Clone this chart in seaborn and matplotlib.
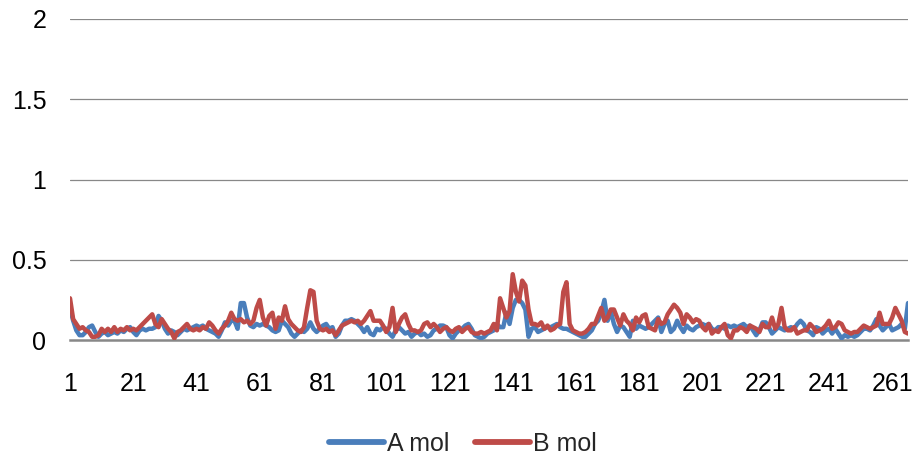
import numpy as np
import pandas as pd
import matplotlib
matplotlib.use("Agg")
import matplotlib.pyplot as plt
import seaborn as sns

a_mol = [
    0.20, 0.12, 0.06, 0.03, 0.03, 0.05, 0.08, 0.09, 0.05, 0.02, 0.04, 0.05, 0.03, 0.04, 0.05, 0.04, 0.06, 0.05, 0.07, 0.08, 0.05, 0.03, 0.06, 0.07, 0.06, 0.07, 0.07, 0.08, 0.15, 0.12, 0.07, 0.04, 0.06,
    0.05, 0.03, 0.05, 0.07, 0.06, 0.07, 0.08, 0.09, 0.08, 0.09, 0.07, 0.06, 0.05, 0.04, 0.02, 0.06, 0.11, 0.09, 0.12, 0.12, 0.07, 0.23, 0.23, 0.14, 0.09, 0.08, 0.10, 0.09, 0.10, 0.09, 0.08, 0.06, 0.05,
    0.06, 0.12, 0.10, 0.08, 0.04, 0.02, 0.04, 0.06, 0.05, 0.07, 0.11, 0.07, 0.05, 0.07, 0.09, 0.10, 0.07, 0.08, 0.02, 0.04, 0.09, 0.12, 0.12, 0.13, 0.12, 0.10, 0.08, 0.05, 0.08, 0.04, 0.03, 0.07, 0.06, 0.08,
    0.07, 0.04, 0.02, 0.06, 0.08, 0.06, 0.04, 0.05, 0.02, 0.04, 0.05, 0.03, 0.04, 0.02, 0.03, 0.06, 0.07, 0.09, 0.09, 0.08, 0.03, 0.01, 0.04, 0.06, 0.07, 0.09, 0.10, 0.07, 0.03, 0.02, 0.01, 0.02, 0.04,
    0.05, 0.06, 0.10, 0.08, 0.08, 0.17, 0.10, 0.20, 0.25, 0.25, 0.23, 0.19, 0.02, 0.07, 0.08, 0.05, 0.06, 0.07, 0.08, 0.08, 0.09, 0.10, 0.08, 0.07, 0.07, 0.06, 0.05, 0.04, 0.03, 0.02, 0.02, 0.04, 0.06,
    0.10, 0.12, 0.17, 0.25, 0.12, 0.18, 0.10, 0.05, 0.09, 0.08, 0.05, 0.02, 0.12, 0.07, 0.09, 0.08, 0.07, 0.08, 0.10, 0.12, 0.14, 0.05, 0.10, 0.12, 0.05, 0.07, 0.12, 0.08, 0.05, 0.09, 0.07, 0.06, 0.08,
    0.09, 0.10, 0.09, 0.10, 0.07, 0.06, 0.08, 0.08, 0.07, 0.09, 0.08, 0.09, 0.08, 0.09, 0.10, 0.08, 0.09, 0.06, 0.03, 0.06, 0.11, 0.11, 0.08, 0.04, 0.06, 0.08, 0.07, 0.06, 0.07, 0.08, 0.07, 0.10, 0.12, 0.10,
    0.06, 0.05, 0.03, 0.08, 0.07, 0.04, 0.06, 0.07, 0.04, 0.07, 0.04, 0.01, 0.03, 0.02, 0.03, 0.02, 0.03, 0.05, 0.07, 0.07, 0.06, 0.09, 0.13, 0.09, 0.06, 0.08, 0.10, 0.06, 0.07, 0.08, 0.10, 0.07, 0.23,
]

b_mol = [
    0.26, 0.13, 0.10, 0.07, 0.08, 0.06, 0.05, 0.02, 0.02, 0.03, 0.07, 0.05, 0.07, 0.05, 0.08, 0.05, 0.07, 0.06, 0.08, 0.06, 0.07, 0.06, 0.08, 0.10, 0.12, 0.14, 0.16, 0.10, 0.08, 0.13, 0.10, 0.07, 0.05,
    0.01, 0.05, 0.06, 0.08, 0.10, 0.07, 0.06, 0.07, 0.06, 0.08, 0.07, 0.11, 0.09, 0.06, 0.04, 0.07, 0.09, 0.12, 0.17, 0.13, 0.12, 0.13, 0.11, 0.12, 0.10, 0.12, 0.20, 0.25, 0.14, 0.09, 0.15, 0.17, 0.07,
    0.14, 0.12, 0.21, 0.13, 0.10, 0.08, 0.06, 0.05, 0.08, 0.20, 0.31, 0.30, 0.12, 0.07, 0.06, 0.07, 0.05, 0.06, 0.03, 0.06, 0.09, 0.10, 0.11, 0.12, 0.11, 0.12, 0.10, 0.12, 0.15, 0.18, 0.12, 0.12, 0.12, 0.09,
    0.05, 0.08, 0.20, 0.05, 0.10, 0.14, 0.16, 0.10, 0.06, 0.06, 0.05, 0.06, 0.10, 0.11, 0.08, 0.10, 0.08, 0.05, 0.07, 0.08, 0.06, 0.05, 0.07, 0.08, 0.05, 0.07, 0.08, 0.05, 0.04, 0.04, 0.05, 0.04, 0.05,
    0.06, 0.10, 0.06, 0.26, 0.20, 0.14, 0.18, 0.41, 0.30, 0.24, 0.37, 0.34, 0.19, 0.10, 0.10, 0.09, 0.11, 0.07, 0.09, 0.06, 0.07, 0.09, 0.10, 0.30, 0.36, 0.10, 0.06, 0.05, 0.04, 0.04, 0.05, 0.07, 0.10,
    0.10, 0.15, 0.20, 0.12, 0.14, 0.19, 0.19, 0.14, 0.09, 0.16, 0.12, 0.10, 0.06, 0.14, 0.11, 0.15, 0.16, 0.08, 0.07, 0.06, 0.13, 0.10, 0.11, 0.16, 0.19, 0.22, 0.20, 0.17, 0.10, 0.16, 0.14, 0.11, 0.13,
    0.12, 0.08, 0.06, 0.10, 0.04, 0.06, 0.05, 0.08, 0.10, 0.03, 0.01, 0.06, 0.06, 0.08, 0.07, 0.05, 0.09, 0.08, 0.07, 0.05, 0.10, 0.08, 0.08, 0.14, 0.07, 0.10, 0.20, 0.08, 0.06, 0.06, 0.08, 0.04, 0.05, 0.06,
    0.06, 0.10, 0.08, 0.05, 0.06, 0.07, 0.09, 0.12, 0.07, 0.08, 0.11, 0.10, 0.06, 0.05, 0.04, 0.05, 0.05, 0.07, 0.09, 0.08, 0.07, 0.08, 0.09, 0.17, 0.10, 0.10, 0.10, 0.14, 0.20, 0.16, 0.12, 0.05, 0.04,
]

series_names = ["A mol", "B mol"]
series_colors = ["#4A7EBB", "#BE4B48"]
y_ticks = [0, 0.5, 1, 1.5, 2]
y_tick_labels = ["0", "0.5", "1", "1.5", "2"]
x_tick_labels = [1, 21, 41, 61, 81, 101, 121, 141, 161, 181, 201, 221, 241, 261]

assert len(a_mol) == len(b_mol) == 266, (len(a_mol), len(b_mol))
n = len(a_mol)
idx = np.arange(1, n + 1)

df = pd.DataFrame({
    "x": np.concatenate([idx, idx]),
    "value": a_mol + b_mol,
    "series": [series_names[0]] * n + [series_names[1]] * n,
})

sns.set_theme(style="white")
plt.rcParams["font.family"] = ["Liberation Sans", "DejaVu Sans"]

fig = plt.figure(figsize=(9.2, 4.63), dpi=100)
ax = fig.add_axes([70 / 920, 1 - 340 / 463, (908 - 70) / 920, (340 - 19) / 463])

sns.lineplot(data=df, x="x", y="value", hue="series", hue_order=series_names,
             palette=series_colors, linewidth=3.2, ax=ax, legend=False)

ax.set_xlim(1, n)
ax.set_ylim(0, 2)
ax.set_yticks(y_ticks)
ax.set_yticklabels(y_tick_labels)
ax.set_xticks(x_tick_labels)
ax.set_xticklabels([str(v) for v in x_tick_labels])
ax.set_xlabel("")
ax.set_ylabel("")

for y in y_ticks[1:]:
    ax.axhline(y, color="#888888", lw=0.9, zorder=0)

for s in ["top", "right", "left"]:
    ax.spines[s].set_visible(False)
ax.spines["bottom"].set_color("#888888")
ax.spines["bottom"].set_linewidth(1.8)
ax.spines["bottom"].set_zorder(0)

ax.tick_params(axis="both", length=0, labelsize=18, colors="black")
ax.tick_params(axis="y", pad=17)
ax.tick_params(axis="x", pad=23)
ax.grid(False)

handles = [plt.Line2D([], [], color=c, lw=4.2, solid_capstyle="round") for c in series_colors]
fig.legend(handles, series_names, loc="center", bbox_to_anchor=(0.503, 1 - 444 / 463),
           ncol=2, frameon=False, fontsize=18, handlelength=2.2, handletextpad=0.12,
           columnspacing=1.0)

fig.savefig("out.png", dpi=100)
